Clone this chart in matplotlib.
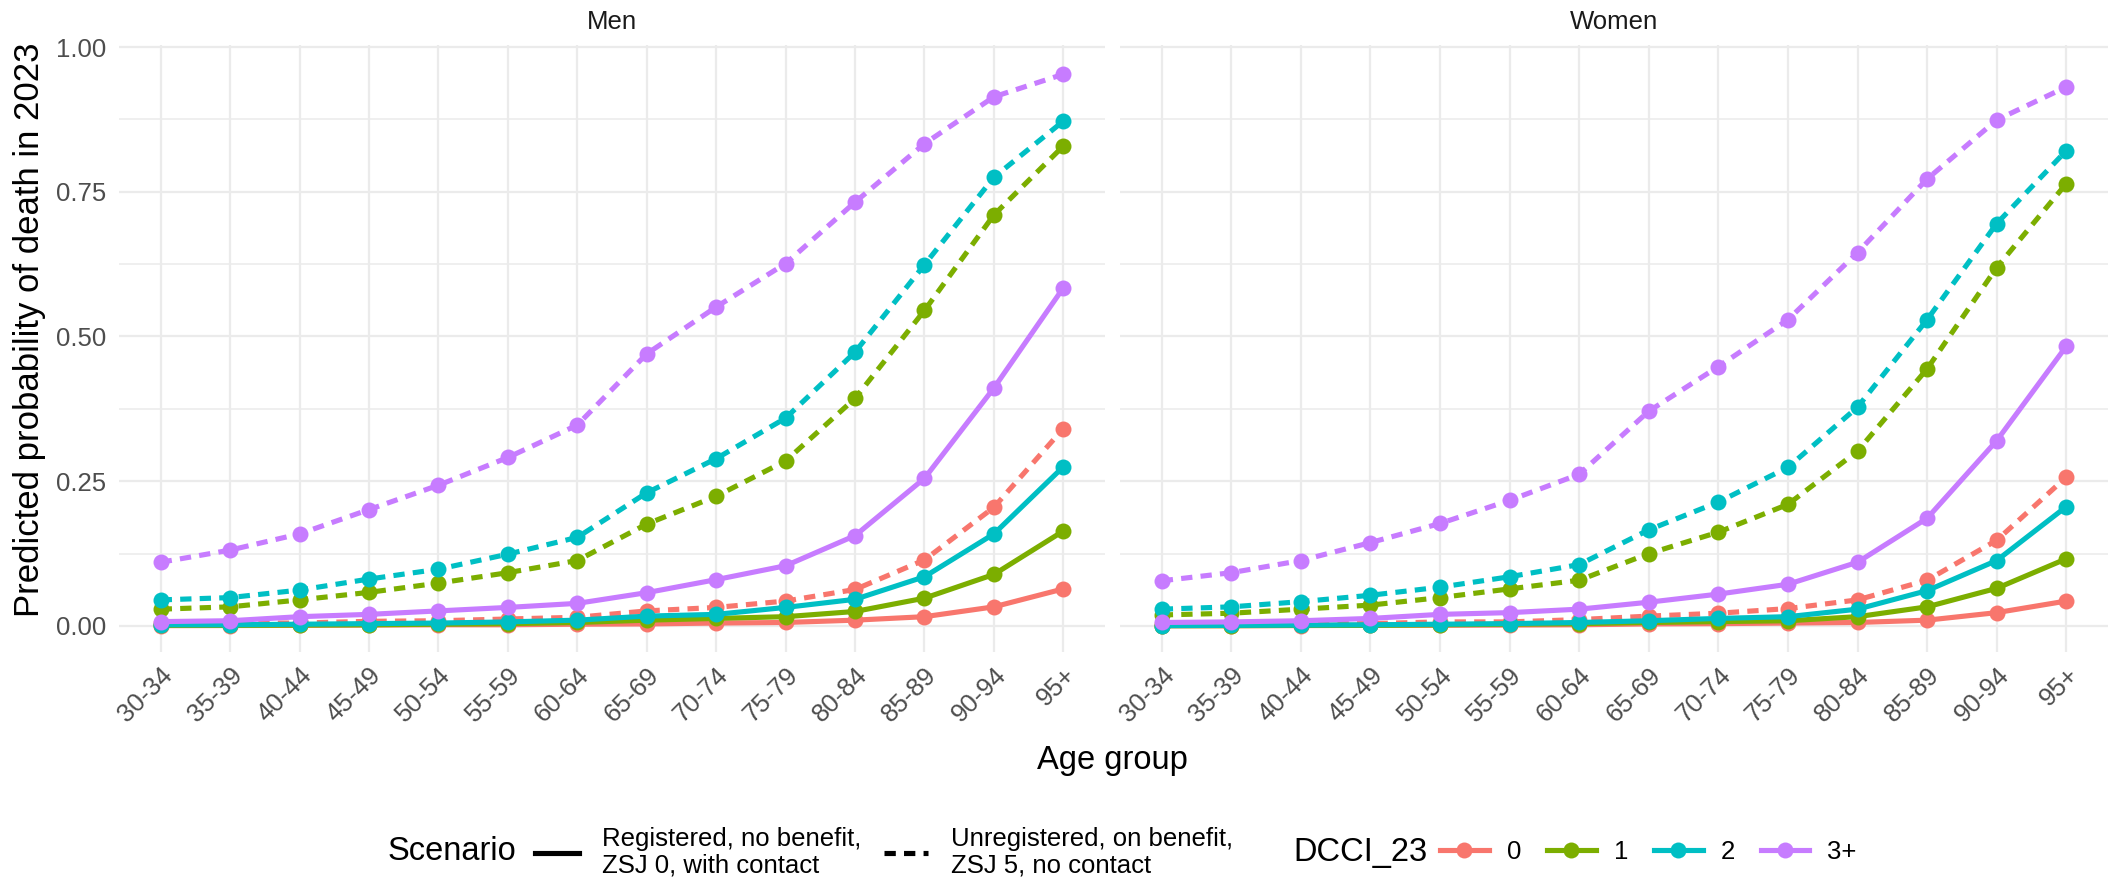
import matplotlib
matplotlib.use("Agg")
import matplotlib.pyplot as plt
from matplotlib.lines import Line2D

plt.rcParams['font.family'] = ['Liberation Sans', 'DejaVu Sans']

# ---------------- data ----------------
age_groups = ["30-34", "35-39", "40-44", "45-49", "50-54", "55-59", "60-64",
              "65-69", "70-74", "75-79", "80-84", "85-89", "90-94", "95+"]
dcci_levels = ["0", "1", "2", "3+"]
scenarios = ["Registered, no benefit,\nZSJ 0, with contact",
             "Unregistered, on benefit,\nZSJ 5, no contact"]

# Men, Registered (solid)
men_reg_0 = [0.0005, 0.0007, 0.001, 0.0015, 0.002, 0.002, 0.003, 0.0035, 0.005, 0.006, 0.010, 0.016, 0.033, 0.064]
men_reg_1 = [0.001, 0.001, 0.0015, 0.002, 0.003, 0.004, 0.006, 0.010, 0.013, 0.016, 0.025, 0.048, 0.089, 0.164]
men_reg_2 = [0.002, 0.002, 0.003, 0.004, 0.005, 0.007, 0.010, 0.017, 0.020, 0.032, 0.046, 0.085, 0.159, 0.275]
men_reg_3 = [0.0075, 0.009, 0.016, 0.020, 0.026, 0.032, 0.039, 0.0575, 0.080, 0.104, 0.156, 0.255, 0.411, 0.584]
# Men, Unregistered (dashed)
men_unr_0 = [0.005, 0.005, 0.005, 0.008, 0.009, 0.012, 0.015, 0.026, 0.032, 0.043, 0.063, 0.114, 0.205, 0.341]
men_unr_1 = [0.029, 0.033, 0.045, 0.058, 0.074, 0.092, 0.113, 0.176, 0.224, 0.285, 0.393, 0.545, 0.710, 0.829]
men_unr_2 = [0.045, 0.049, 0.062, 0.081, 0.098, 0.124, 0.153, 0.230, 0.289, 0.359, 0.473, 0.624, 0.775, 0.872]
men_unr_3 = [0.110, 0.131, 0.159, 0.201, 0.243, 0.291, 0.347, 0.470, 0.551, 0.626, 0.732, 0.833, 0.914, 0.953]
# Women, Registered (solid)
women_reg_0 = [0.0003, 0.0004, 0.0006, 0.001, 0.0012, 0.0015, 0.002, 0.0035, 0.004, 0.005, 0.006, 0.010, 0.023, 0.043]
women_reg_1 = [0.0005, 0.0005, 0.001, 0.001, 0.002, 0.003, 0.004, 0.006, 0.0075, 0.009, 0.016, 0.033, 0.065, 0.116]
women_reg_2 = [0.0005, 0.001, 0.0015, 0.002, 0.003, 0.004, 0.006, 0.009, 0.013, 0.016, 0.029, 0.061, 0.113, 0.206]
women_reg_3 = [0.006, 0.007, 0.009, 0.013, 0.020, 0.023, 0.029, 0.041, 0.055, 0.072, 0.110, 0.186, 0.320, 0.483]
# Women, Unregistered (dashed)
women_unr_0 = [0.003, 0.003, 0.004, 0.004, 0.007, 0.007, 0.011, 0.017, 0.022, 0.030, 0.045, 0.079, 0.148, 0.257]
women_unr_1 = [0.019, 0.022, 0.029, 0.036, 0.049, 0.064, 0.079, 0.125, 0.162, 0.210, 0.302, 0.444, 0.619, 0.764]
women_unr_2 = [0.029, 0.033, 0.042, 0.053, 0.067, 0.085, 0.106, 0.166, 0.214, 0.274, 0.378, 0.529, 0.695, 0.821]
women_unr_3 = [0.078, 0.092, 0.113, 0.144, 0.177, 0.217, 0.262, 0.371, 0.448, 0.529, 0.645, 0.772, 0.874, 0.931]

panels = {
    "Men": ([men_reg_0, men_reg_1, men_reg_2, men_reg_3],
            [men_unr_0, men_unr_1, men_unr_2, men_unr_3]),
    "Women": ([women_reg_0, women_reg_1, women_reg_2, women_reg_3],
              [women_unr_0, women_unr_1, women_unr_2, women_unr_3]),
}

# ---------------- style ----------------
colors = ["#F8766D", "#7CAE00", "#00BFC4", "#C77CFF"]
W, H = 2108, 881
LW = 3.7
DASH = (2.2, 1.6)
MS = 11.5
grid_col = "#EBEBEB"
tick_col = "#4D4D4D"
small_fs = 18.5
big_fs = 23.5

fig = plt.figure(figsize=(W / 100, H / 100), dpi=100)

def fx(px):
    return px / W

def fy(py):
    return 1 - py / H

panel_px = {"Men": (119, 1105), "Women": (1120, 2108)}
top_px, bot_px = 45, 652

x = list(range(len(age_groups)))
axes = []
for name, (reg, unr) in panels.items():
    l, r = panel_px[name]
    ax = fig.add_axes([fx(l), fy(bot_px), fx(r - l), (bot_px - top_px) / H])
    axes.append(ax)
    ax.set_xlim(-0.6, len(age_groups) - 1 + 0.6)
    ax.set_ylim(-0.045, 1.0035)
    for s in ax.spines.values():
        s.set_visible(False)
    ax.set_yticks([0, 0.25, 0.5, 0.75, 1.0])
    ax.set_yticks([0.125, 0.375, 0.625, 0.875], minor=True)
    ax.set_xticks(x)
    ax.grid(True, which="major", color=grid_col, lw=1.6)
    ax.grid(True, which="minor", axis="y", color=grid_col, lw=1.1)
    ax.set_axisbelow(True)
    ax.tick_params(which="both", length=0)
    ax.tick_params(axis="y", labelsize=small_fs, labelcolor=tick_col, pad=9)
    ax.set_xticklabels(age_groups, rotation=45, ha="right", rotation_mode="anchor",
                       fontsize=small_fs, color=tick_col)
    ax.tick_params(axis="x", pad=8)
    if name == "Men":
        ax.set_yticklabels(["0.00", "0.25", "0.50", "0.75", "1.00"])
    else:
        ax.set_yticklabels([])
    for i in range(4):
        ax.plot(x, unr[i], color=colors[i], lw=LW, ls=(0, DASH), marker="o",
                ms=MS, markeredgewidth=0, zorder=3)
        ax.plot(x, reg[i], color=colors[i], lw=LW, ls="-", marker="o",
                ms=MS, markeredgewidth=0, zorder=3)
    fig.text(fx((l + r) / 2), fy(22), name, ha="center", va="center",
             fontsize=small_fs, color="#1A1A1A")

fig.text(fx(30), fy(330), "Predicted probability of death in 2023",
         rotation=90, ha="center", va="center", fontsize=25)
fig.text(fx(1112), fy(760), "Age group", ha="center", va="center", fontsize=big_fs)

# ---------------- legends ----------------
leg_y = 852
fig.text(fx(388), fy(leg_y), "Scenario", ha="left", va="center", fontsize=big_fs)
sc_handles = [Line2D([], [], color="black", lw=LW, ls="-"),
              Line2D([], [], color="black", lw=LW, ls=(0, DASH))]
leg1 = fig.legend(sc_handles, scenarios, loc="center left",
                  bbox_to_anchor=(fx(535), fy(leg_y)), ncol=2, frameon=False,
                  fontsize=small_fs, handlelength=1.7, handletextpad=0.9,
                  columnspacing=0.9, borderpad=0, borderaxespad=0,
                  labelspacing=0.2)
for t in leg1.get_texts():
    t.set_linespacing(1.15)

fig.text(fx(1293), fy(leg_y), "DCCI_23", ha="left", va="center", fontsize=big_fs)
dc_handles = [Line2D([], [], color=c, lw=LW, marker="o", ms=MS, markeredgewidth=0)
              for c in colors]
leg2 = fig.legend(dc_handles, dcci_levels, loc="center left",
                  bbox_to_anchor=(fx(1440), fy(leg_y)), ncol=4, frameon=False,
                  fontsize=small_fs, handlelength=1.9, handletextpad=0.7,
                  columnspacing=1.0, borderpad=0, borderaxespad=0)

fig.savefig("out.png", dpi=100)
